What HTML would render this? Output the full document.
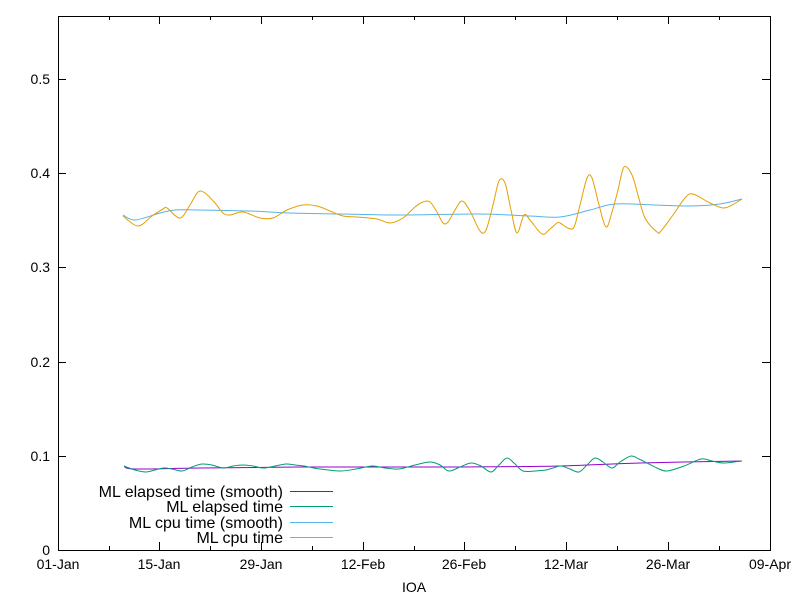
<!DOCTYPE html>
<html><head><meta charset="utf-8"><style>body{margin:0;background:#fff}svg{display:block}text{font-family:"Liberation Sans",sans-serif;font-size:14px;fill:#000}.lg text{font-size:16px}</style></head><body>
<svg width="800" height="600" viewBox="0 0 800 600">
<rect x="58.5" y="16.5" width="712" height="534" fill="none" stroke="#000" stroke-width="1"/>
<g stroke="#000" stroke-width="1">
<path d="M58 550.5h8M58 456.5h8M58 362.5h8M58 267.5h8M58 173.5h8M58 79.5h8M770 550.5h-8M770 456.5h-8M770 362.5h-8M770 267.5h-8M770 173.5h-8M770 79.5h-8"/>
<path d="M58.5 550v-8M109.5 550v-4M159.5 550v-8M210.5 550v-4M261.5 550v-8M312.5 550v-4M363.5 550v-8M414.5 550v-4M464.5 550v-8M515.5 550v-4M566.5 550v-8M617.5 550v-4M668.5 550v-8M719.5 550v-4M770.5 550v-8"/>
<path d="M58.5 16v8M109.5 16v4M159.5 16v8M210.5 16v4M261.5 16v8M312.5 16v4M363.5 16v8M414.5 16v4M464.5 16v8M515.5 16v4M566.5 16v8M617.5 16v4M668.5 16v8M719.5 16v4M770.5 16v8"/>
</g>
<g text-anchor="end">
<text x="50" y="555">0</text><text x="50" y="461">0.1</text><text x="50" y="367">0.2</text><text x="50" y="272">0.3</text><text x="50" y="178">0.4</text><text x="50" y="84">0.5</text>
</g>
<g text-anchor="middle">
<text x="58" y="569">01-Jan</text><text x="159" y="569">15-Jan</text><text x="261" y="569">29-Jan</text><text x="363" y="569">12-Feb</text><text x="464" y="569">26-Feb</text><text x="566" y="569">12-Mar</text><text x="668" y="569">26-Mar</text><text x="770" y="569">09-Apr</text>
<text x="414" y="592">IOA</text>
</g>
<g fill="none" stroke-width="1" stroke-linejoin="round">
<path id="p1" stroke="#56b4e9" data-p="123,215 135,220 160,213 175,210 200,210 250,211 290,213 340,214 400,215 480,214 530,216 560,217 590,210 615,204 655,205 690,206 720,204 742,199"/>
<path id="p2" stroke="#e69f00" data-p="123,216 138,226 152,216 163,209 167,208 180,218 190,205 198,192 205,193 215,203 223,213 230,215 243,212 260,218 273,218 287,210 303,205 317,206 330,211 343,216 357,217 377,219 390,223 403,218 415,207 423,202 430,202 437,212 443,223 448,222 455,210 462,201 470,211 480,231 486,230 493,205 499,181 505,183 511,210 517,233 524,215 530,220 542,234 550,229 557,223 560,223 568,228 574,227 580,205 587,178 592,178 599,205 606,227 612,212 618,190 624,167 632,175 638,195 645,218 657,232 661,231 673,215 685,198 693,194 710,203 723,208 732,205 742,199"/>
<path id="p3" stroke="#9400d3" data-p="124,466 135,469 200,468 300,467 450,467 560,466 640,463 742,461"/>
<path id="p4" stroke="#009e73" data-p="124,466 135,470 146,472 155,470 164,468 172,469 182,471 192,467 202,464 212,465 223,468 233,466 243,465 253,466 263,468 275,466 286,464 295,465 304,466 320,469 340,471 356,469 372,466 385,468 399,469 415,465 430,462 440,465 449,471 460,467 471,463 481,466 491,472 499,465 507,458 515,464 523,471 535,471 546,470 553,468 561,466 570,469 579,472 587,465 595,458 603,462 612,468 620,462 631,456 639,459 647,463 657,468 667,471 684,466 701,459 712,461 724,463 742,461"/>
</g>
<g class="lg" text-anchor="end">
<text x="283" y="497">ML elapsed time (smooth)</text>
<text x="283" y="512">ML elapsed time</text>
<text x="283" y="528">ML cpu time (smooth)</text>
<text x="283" y="543">ML cpu time</text>
</g>
<g stroke-width="1">
<path d="M290 491.5h43" stroke="#9400d3"/>
<path d="M290 506.5h43" stroke="#009e73"/>
<path d="M290 522.5h43" stroke="#56b4e9"/>
<path d="M290 537.5h43" stroke="#e69f00"/>
</g>
</svg>
<script>
['p1','p2','p3','p4'].forEach(function(id){
var el=document.getElementById(id);
var P=el.getAttribute('data-p').split(' ').map(function(s){return s.split(',').map(Number);});
var d='M'+P[0][0]+' '+P[0][1];
for(var i=0;i<P.length-1;i++){
var p0=P[i-1]||P[i],p1=P[i],p2=P[i+1],p3=P[i+2]||P[i+1];
var c1x=p1[0]+(p2[0]-p0[0])/6,c1y=p1[1]+(p2[1]-p0[1])/6;
var c2x=p2[0]-(p3[0]-p1[0])/6,c2y=p2[1]-(p3[1]-p1[1])/6;
d+=' C'+c1x.toFixed(1)+' '+c1y.toFixed(1)+' '+c2x.toFixed(1)+' '+c2y.toFixed(1)+' '+p2[0]+' '+p2[1];
}
el.setAttribute('d',d);el.removeAttribute('data-p');
});
</script>
</body></html>
